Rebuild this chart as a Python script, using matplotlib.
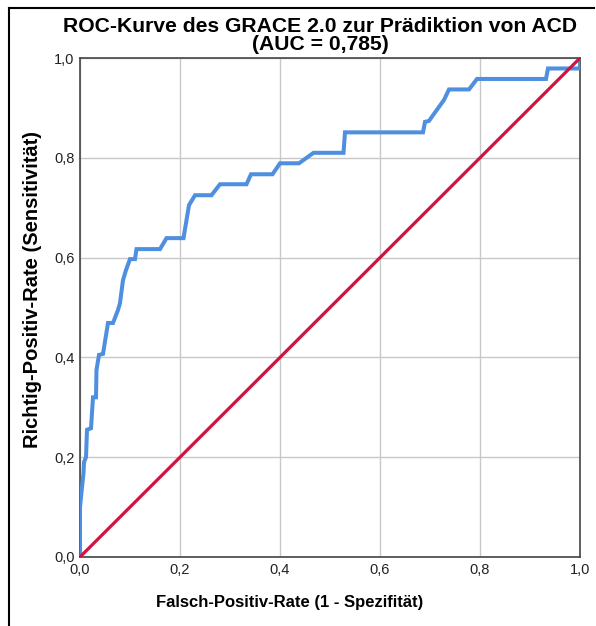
import matplotlib
matplotlib.use("Agg")
import matplotlib.pyplot as plt
from matplotlib.lines import Line2D

plt.rcParams['font.family'] = ['Liberation Sans', 'DejaVu Sans']

# ROC curve points (1 - specificity, sensitivity)
fpr = [0.0, 0.0, 0.003, 0.007, 0.008, 0.012, 0.014, 0.022, 0.026, 0.032,
       0.033, 0.038, 0.046, 0.056, 0.066, 0.076, 0.080, 0.086, 0.092, 0.100,
       0.110, 0.113, 0.160, 0.173, 0.207, 0.218, 0.230, 0.263, 0.280, 0.333,
       0.342, 0.385, 0.400, 0.438, 0.467, 0.527, 0.530, 0.686, 0.690, 0.698,
       0.728, 0.738, 0.778, 0.794, 0.932, 0.936, 1.0, 1.0]
tpr = [0.0, 0.10, 0.13, 0.168, 0.19, 0.20, 0.255, 0.258, 0.32, 0.32,
       0.375, 0.405, 0.407, 0.469, 0.469, 0.495, 0.509, 0.555, 0.575, 0.597,
       0.597, 0.617, 0.617, 0.639, 0.639, 0.705, 0.725, 0.725, 0.747, 0.747,
       0.767, 0.767, 0.789, 0.789, 0.810, 0.810, 0.851, 0.851, 0.872, 0.874,
       0.916, 0.937, 0.937, 0.958, 0.958, 0.979, 0.979, 1.0]

ref_line = [0.0, 1.0]
ticks = [0.0, 0.2, 0.4, 0.6, 0.8, 1.0]
tick_labels = ["0,0", "0,2", "0,4", "0,6", "0,8", "1,0"]

title_line1 = "ROC-Kurve des GRACE 2.0 zur Prädiktion von ACD"
title_line2 = "(AUC = 0,785)"
xlabel = "Falsch-Positiv-Rate (1 - Spezifität)"
ylabel = "Richtig-Positiv-Rate (Sensitivität)"

W, H = 596, 626
fig = plt.figure(figsize=(W / 100, H / 100), dpi=100)
ax = fig.add_axes([80 / W, 1 - 557 / H, 500 / W, 499 / H])

ax.set_xlim(0, 1)
ax.set_ylim(0, 1)
ax.grid(True, color="#c8c8c8", linewidth=1.0)
ax.set_axisbelow(True)

ax.plot(fpr, tpr, color="#4f8fe0", linewidth=2.9, solid_joinstyle="miter", zorder=3)
ax.plot(ref_line, ref_line, color="#d2123f", linewidth=2.3, zorder=4)

ax.set_xticks(ticks)
ax.set_yticks(ticks)
ax.set_xticklabels(tick_labels, fontsize=10.5, color="#222222")
ax.set_yticklabels(tick_labels, fontsize=10.5, color="#222222")
ax.tick_params(length=0, pad=4)
for s in ax.spines.values():
    s.set_color("#444444")
    s.set_linewidth(1.2)

fig.text(320 / W, 1 - 27 / H, title_line1, ha="center", va="center",
         fontsize=15.2, fontweight="bold")
fig.text(320 / W, 1 - 45 / H, title_line2, ha="center", va="center",
         fontsize=15.2, fontweight="bold")
fig.text(290 / W, 1 - 602 / H, xlabel, ha="center", va="center",
         fontsize=12, fontweight="bold")
fig.text(33 / W, 1 - 290 / H, ylabel, ha="center", va="center",
         fontsize=14.5, fontweight="bold", rotation=90)

# outer frame (left and top edges)
fig.add_artist(Line2D([9 / W, 9 / W], [0, 1 - 8 / H], transform=fig.transFigure,
                      color="black", linewidth=1.5))
fig.add_artist(Line2D([9 / W, 594 / W], [1 - 8 / H, 1 - 8 / H], transform=fig.transFigure,
                      color="black", linewidth=1.5))

fig.savefig("out.png", dpi=100)
